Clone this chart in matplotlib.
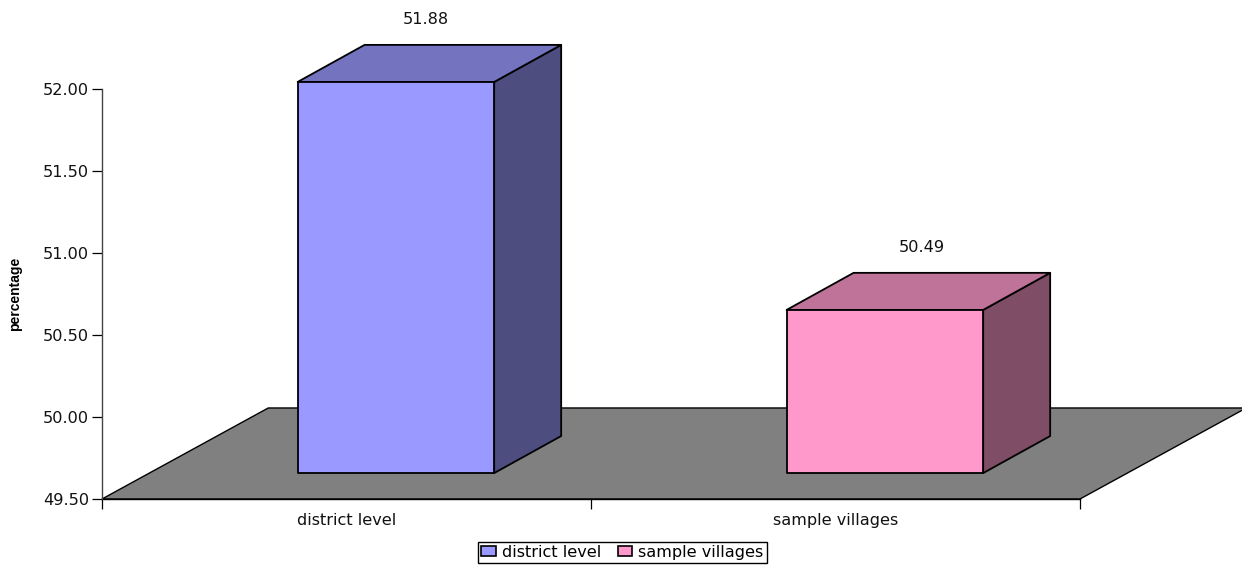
import matplotlib
matplotlib.use('Agg')
import matplotlib.pyplot as plt
from matplotlib.patches import Polygon, Patch

# ----- data -----
categories = ['district level', 'sample villages']
values = [51.88, 50.49]
value_labels = ['51.88', '50.49']
y_ticks = [49.5, 50.0, 50.5, 51.0, 51.5, 52.0]
front_colors = ['#9999FF', '#FF99CC']
top_colors = ['#7373BF', '#BF7399']
side_colors = ['#4D4D80', '#804D66']

# ----- styles -----
W, H = 1242, 565
font = 'DejaVu Sans'
fs = 11.6
plt.rcParams['font.family'] = font

# 3d look, in data units
floor_dx = 0.34
floor_dy = 0.555
bar_width = 0.402
bar_shift = 0.101   # front face offset from the category centre
bar_base = 0.158    # front face lift above the axis bottom
bar_lift = 0.163    # same lift for the bar tops
box_dx = 0.137
box_dy = 0.226
label_nudge = [-0.008, 0.006]

fig = plt.figure(figsize=(W / 100, H / 100), dpi=100)
ax = fig.add_axes([102 / W, 1 - 499 / H, 978 / W, 410 / H])
ax.set_xlim(0, 2)
ax.set_ylim(49.5, 52.0)
ax.patch.set_visible(False)

# floor
x1 = len(categories)
ax.add_patch(Polygon([(0, 49.5), (floor_dx, 49.5 + floor_dy),
                      (x1 + floor_dx, 49.5 + floor_dy), (x1, 49.5)],
                     closed=True, fc='#808080', ec='black', lw=1.0,
                     clip_on=False, zorder=1))

# bars
for i, v in enumerate(values):
    xl = i + 0.5 - bar_width / 2 + bar_shift
    xr = xl + bar_width
    yb = 49.5 + bar_base
    yt = v + bar_lift
    kw = dict(closed=True, ec='black', lw=1.3, clip_on=False, zorder=3, joinstyle='round')
    ax.add_patch(Polygon([(xr, yb), (xr + box_dx, yb + box_dy), (xr + box_dx, yt + box_dy), (xr, yt)],
                         fc=side_colors[i], **kw))
    ax.add_patch(Polygon([(xl, yt), (xl + box_dx, yt + box_dy), (xr + box_dx, yt + box_dy), (xr, yt)],
                         fc=top_colors[i], **kw))
    ax.add_patch(Polygon([(xl, yb), (xr, yb), (xr, yt), (xl, yt)],
                         fc=front_colors[i], **kw))
    ax.text((xl + xr + box_dx) / 2 + label_nudge[i], yt + box_dy + 0.152, value_labels[i],
            ha='center', va='center', fontsize=fs, color='#111111', clip_on=False)

# axes
for s in ['top', 'right']:
    ax.spines[s].set_visible(False)
ax.spines['left'].set_color('#444444')
ax.spines['left'].set_linewidth(1.0)
ax.spines['bottom'].set_linewidth(1.0)
ax.spines['bottom'].set_zorder(2)
ax.set_yticks(y_ticks)
ax.set_yticklabels(['%.2f' % t for t in y_ticks], fontsize=fs, color='#111111')
ax.set_xticks(range(len(categories) + 1))
ax.set_xticklabels([''] * (len(categories) + 1))
ax.set_xticks([i + 0.5 for i in range(len(categories))], categories, minor=True,
              fontsize=fs, color='#111111')
ax.tick_params(axis='x', which='minor', length=0, pad=10)
ax.tick_params(axis='both', which='major', length=7.2, width=0.9, pad=2)

ax.set_ylabel('percentage', fontsize=10, fontweight='bold',
              family='Liberation Sans', labelpad=0)
ax.yaxis.set_label_coords(-80 / 978, 0.5, transform=ax.transAxes)

# legend
handles = [Patch(fc=c, ec='black', lw=1.2, label=n) for c, n in zip(front_colors, categories)]
fig.legend(handles=handles, loc='center', ncol=2, bbox_to_anchor=(622.5 / W, 1 - 552.5 / H),
           fontsize=fs, fancybox=False, framealpha=1, edgecolor='black',
           handlelength=0.9, handleheight=0.6, handletextpad=0.4, columnspacing=1.0,
           borderpad=0.2, borderaxespad=0)

fig.savefig('out.png', dpi=100)
